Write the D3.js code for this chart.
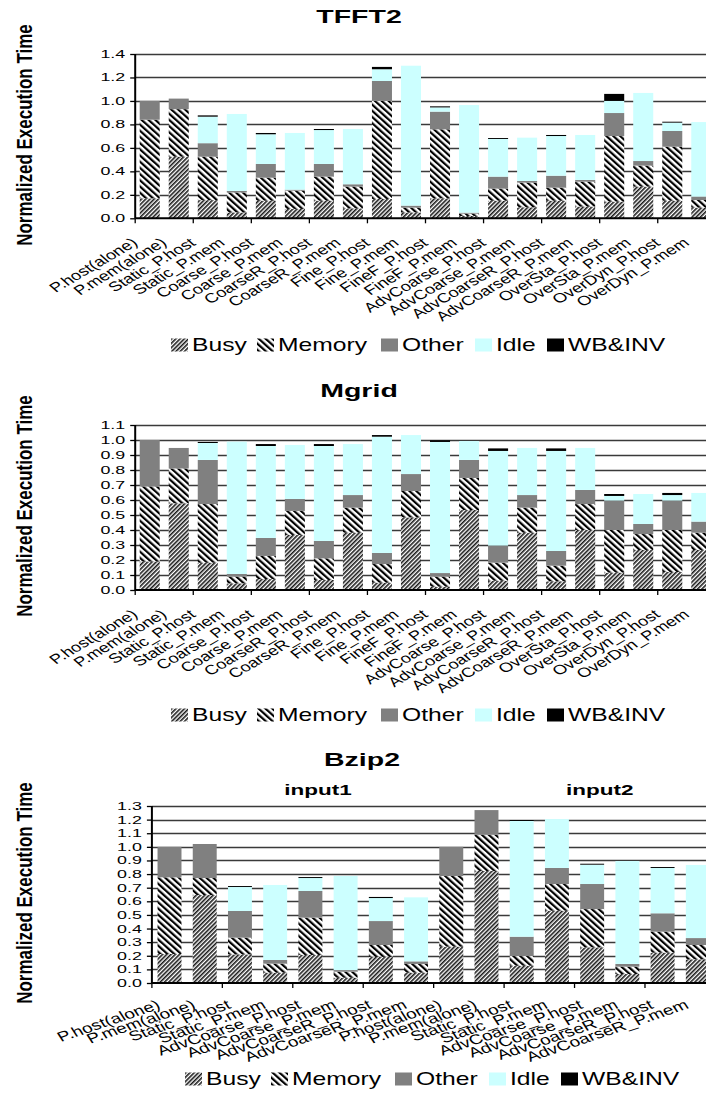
<!DOCTYPE html>
<html>
<head>
<meta charset="utf-8">
<script src="https://cdnjs.cloudflare.com/ajax/libs/d3/7.8.5/d3.min.js"></script>
<style>
  body { margin: 0; background: #fff; }
  svg { display: block; }
  text { font-family: Arial, "Liberation Sans", sans-serif; fill: #000; }
</style>
</head>
<body>
<div class="chart"></div>
<script>
// series names (legend order, stacked bottom -> top)
const seriesNames = ['Busy', 'Memory', 'Other', 'Idle', 'WB&INV'];

// TFFT2
const tfftCats = ['P.host(alone)', 'P.mem(alone)', 'Static_P.host', 'Static_P.mem', 'Coarse_P.host', 'Coarse_P.mem',
  'CoarseR_P.host', 'CoarseR_P.mem', 'Fine_P.host', 'Fine_P.mem', 'FineF_P.host', 'FineF_P.mem',
  'AdvCoarse_P.host', 'AdvCoarse_P.mem', 'AdvCoarseR_P.host', 'AdvCoarseR_P.mem', 'OverSta_P.host', 'OverSta_P.mem',
  'OverDyn_P.host', 'OverDyn_P.mem'];
const tfftBusy   = [0.17, 0.525, 0.155, 0.05, 0.15, 0.08, 0.15, 0.085, 0.165, 0.05, 0.17, 0.02, 0.15, 0.094, 0.15, 0.1, 0.142, 0.27, 0.15, 0.091];
const tfftMemory = [0.67, 0.405, 0.37, 0.17, 0.196, 0.156, 0.205, 0.185, 0.835, 0.041, 0.588, 0.02, 0.103, 0.21, 0.111, 0.212, 0.559, 0.179, 0.46, 0.065];
const tfftOther  = [0.16, 0.09, 0.115, 0.013, 0.117, 0.008, 0.108, 0.02, 0.17, 0.017, 0.151, 0.008, 0.102, 0.014, 0.102, 0.015, 0.196, 0.039, 0.134, 0.029];
const tfftIdle   = [0, 0, 0.226, 0.656, 0.253, 0.483, 0.289, 0.471, 0.10, 1.192, 0.036, 0.917, 0.321, 0.369, 0.338, 0.383, 0.103, 0.58, 0.071, 0.635];
const tfftWb     = [0, 0, 0.011, 0, 0.011, 0, 0.009, 0, 0.02, 0, 0.009, 0, 0.008, 0, 0.009, 0, 0.06, 0, 0.008, 0];
const tfftTicks  = ['0.0', '0.2', '0.4', '0.6', '0.8', '1.0', '1.2', '1.4'];

// Mgrid (same categories as TFFT2)
const mgridBusy   = [0.19, 0.578, 0.182, 0.044, 0.073, 0.367, 0.067, 0.382, 0.049, 0.484, 0.022, 0.533, 0.062, 0.382, 0.058, 0.4, 0.116, 0.267, 0.12, 0.267];
const mgridMemory = [0.5, 0.232, 0.391, 0.045, 0.154, 0.16, 0.144, 0.167, 0.124, 0.176, 0.067, 0.214, 0.12, 0.167, 0.104, 0.173, 0.284, 0.106, 0.28, 0.115];
const mgridOther  = [0.31, 0.137, 0.294, 0.018, 0.12, 0.08, 0.116, 0.084, 0.074, 0.113, 0.024, 0.12, 0.114, 0.084, 0.098, 0.094, 0.196, 0.067, 0.196, 0.074];
const mgridIdle   = [0, 0, 0.113, 0.882, 0.613, 0.36, 0.633, 0.34, 0.775, 0.26, 0.874, 0.126, 0.631, 0.314, 0.667, 0.28, 0.031, 0.2, 0.037, 0.191];
const mgridWb     = [0, 0, 0.007, 0, 0.013, 0, 0.013, 0, 0.011, 0, 0.011, 0, 0.017, 0, 0.017, 0, 0.013, 0, 0.014, 0];
const mgridTicks  = ['0.0', '0.1', '0.2', '0.3', '0.4', '0.5', '0.6', '0.7', '0.8', '0.9', '1.0', '1.1'];

// Bzip2 (two inputs, 8 configs each)
const bzipCats = ['P.host(alone)', 'P.mem(alone)', 'Static_P.host', 'Static_P.mem', 'AdvCoarse_P.host', 'AdvCoarse_P.mem',
  'AdvCoarseR_P.host', 'AdvCoarseR_P.mem'];
const bzipGroups = ['input1', 'input2'];
const bzipBusy   = [0.213, 0.646, 0.21, 0.076, 0.206, 0.039, 0.193, 0.076, 0.267, 0.823, 0.127, 0.531, 0.262, 0.066, 0.223, 0.174];
const bzipMemory = [0.563, 0.125, 0.123, 0.066, 0.274, 0.044, 0.086, 0.064, 0.519, 0.266, 0.071, 0.196, 0.281, 0.054, 0.154, 0.105];
const bzipOther  = [0.224, 0.25, 0.196, 0.027, 0.196, 0.012, 0.176, 0.019, 0.214, 0.181, 0.142, 0.118, 0.184, 0.02, 0.135, 0.051];
const bzipIdle   = [0, 0, 0.176, 0.551, 0.095, 0.691, 0.169, 0.47, 0, 0, 0.85, 0.359, 0.142, 0.756, 0.333, 0.537];
const bzipWb     = [0, 0, 0.007, 0, 0.007, 0, 0.008, 0, 0, 0, 0.007, 0, 0.007, 0, 0.007, 0];
const bzipTicks  = ['0.0', '0.1', '0.2', '0.3', '0.4', '0.5', '0.6', '0.7', '0.8', '0.9', '1.0', '1.1', '1.2', '1.3'];

const W = 706, H = 1097;

const svg = d3.select('.chart')
  .append('svg')
    .attr('width', W)
    .attr('height', H);

svg.append('rect').attr('width', W).attr('height', H).attr('fill', '#fff');

// fill patterns
const defs = svg.append('defs');
const busyPat = defs.append('pattern')
  .attr('id', 'busy')
  .attr('patternUnits', 'userSpaceOnUse')
  .attr('width', 3).attr('height', 3)
  .attr('patternTransform', 'rotate(45)');
busyPat.append('rect').attr('width', 3).attr('height', 3).attr('fill', '#fff');
busyPat.append('rect').attr('width', 1.6).attr('height', 3).attr('fill', '#1a1a1a');

const memPat = defs.append('pattern')
  .attr('id', 'memory')
  .attr('patternUnits', 'userSpaceOnUse')
  .attr('width', 4.6).attr('height', 4.6)
  .attr('patternTransform', 'rotate(-48)');
memPat.append('rect').attr('width', 4.6).attr('height', 4.6).attr('fill', '#fff');
memPat.append('rect').attr('width', 2.2).attr('height', 4.6).attr('fill', '#000');

const fills = ['url(#busy)', 'url(#memory)', '#808080', '#ccffff', '#000'];

// legend item x offsets (swatch left edges), text sits 21px right of swatch
const legendOffsets = [0, 86, 210, 304, 376];

function drawChart(opt) {
  const g = svg.append('g');
  const n = opt.cats.length;
  const innerW = n * opt.step;

  const x = d3.scaleBand()
    .domain(d3.range(n))
    .range([opt.left, opt.left + innerW])
    .paddingInner(opt.pad)
    .paddingOuter(opt.pad / 2);

  const yMax = +opt.ticks[opt.ticks.length - 1];
  const y = d3.scaleLinear()
    .domain([0, yMax])
    .range([opt.bottom, opt.top]);

  // gridlines
  g.append('g')
    .selectAll('line')
    .data(opt.ticks.slice(1))
    .join('line')
      .attr('x1', opt.left).attr('x2', opt.left + innerW)
      .attr('y1', d => Math.round(y(+d)) + 0.5)
      .attr('y2', d => Math.round(y(+d)) + 0.5)
      .attr('stroke', '#3a3a3a')
      .attr('stroke-width', 1.4);

  // stacked bars
  const rows = opt.cats.map((c, i) => {
    const r = { i };
    seriesNames.forEach((s, k) => { r[s] = opt.values[k][i]; });
    return r;
  });
  const stack = d3.stack().keys(seriesNames)(rows);

  g.append('g')
    .selectAll('g')
    .data(stack)
    .join('g')
      .attr('fill', (d, k) => fills[k])
    .selectAll('rect')
    .data(d => d)
    .join('rect')
      .attr('x', d => x(d.data.i))
      .attr('width', x.bandwidth())
      .attr('y', d => y(d[1]))
      .attr('height', d => Math.max(0, y(d[0]) - y(d[1])));

  // y axis
  const yAxis = d3.axisLeft(y)
    .tickValues(opt.ticks.map(Number))
    .tickSize(5)
    .tickFormat('');
  g.append('g')
    .attr('transform', `translate(${opt.left},0)`)
    .call(yAxis)
    .call(s => s.select('.domain').attr('stroke', '#000').attr('stroke-width', 2).attr('d', `M0,${opt.bottom}V${opt.top}`))
    .call(s => s.selectAll('.tick line').attr('stroke', '#000').attr('stroke-width', 1.3));

  g.append('g')
    .selectAll('text')
    .data(opt.ticks)
    .join('text')
      .attr('transform', d => `translate(${opt.left - 10},${y(+d) + 4}) scale(1.7,1)`)
      .attr('text-anchor', 'end')
      .style('font-size', '10.5px')
      .text(d => d);

  // x axis line + ticks every two categories
  g.append('line')
    .attr('x1', opt.left).attr('x2', opt.left + innerW)
    .attr('y1', opt.bottom).attr('y2', opt.bottom)
    .attr('stroke', '#000').attr('stroke-width', 2);
  g.append('g')
    .selectAll('line')
    .data(d3.range(0, n + 1, 2))
    .join('line')
      .attr('x1', d => opt.left + d * opt.step).attr('x2', d => opt.left + d * opt.step)
      .attr('y1', opt.bottom).attr('y2', opt.bottom + 5)
      .attr('stroke', '#000').attr('stroke-width', 1.3);

  // category labels (widened like the original export)
  g.append('g')
    .selectAll('text')
    .data(opt.cats)
    .join('text')
      .attr('transform', (d, i) => `translate(${x(i) + x.bandwidth() / 2 + opt.lblDx},${opt.bottom + opt.lblDy}) scale(1.38,1) rotate(${opt.angle})`)
      .attr('text-anchor', 'end')
      .style('font-size', opt.lblSize + 'px')
      .text(d => d);

  // title
  g.append('text')
    .attr('transform', `translate(${opt.titleX},${opt.titleY}) scale(1.5,1)`)
    .attr('text-anchor', 'middle')
    .style('font-size', '19px').style('font-weight', 'bold')
    .text(opt.title);

  // y axis title
  g.append('text')
    .attr('transform', `translate(32,${opt.yLabelY}) rotate(-90) scale(1,1.35)`)
    .attr('text-anchor', 'middle')
    .style('font-size', '17px').style('font-weight', 'bold')
    .text('Normalized Execution Time');

  // legend
  const lg = g.append('g').attr('transform', `translate(${opt.legendX},${opt.legendY})`);
  seriesNames.forEach((s, k) => {
    const it = lg.append('g').attr('transform', `translate(${legendOffsets[k]},0)`);
    it.append('rect').attr('x', 0).attr('y', -12.5).attr('width', 17).attr('height', 13).attr('fill', fills[k]);
    it.append('text')
      .attr('transform', 'translate(21,0) scale(1.37,1)')
      .style('font-size', '18px')
      .text(s);
  });

  return { x, y, g };
}

drawChart({
  title: 'TFFT2', titleX: 359, titleY: 23,
  cats: tfftCats, values: [tfftBusy, tfftMemory, tfftOther, tfftIdle, tfftWb], ticks: tfftTicks,
  left: 135.2, step: 29.03, pad: 0.31, top: 54, bottom: 218.3,
  angle: -39, lblSize: 13.3, lblDx: -11, lblDy: 26,
  yLabelY: 135, legendX: 171, legendY: 351
});

drawChart({
  title: 'Mgrid', titleX: 359, titleY: 397,
  cats: tfftCats, values: [mgridBusy, mgridMemory, mgridOther, mgridIdle, mgridWb], ticks: mgridTicks,
  left: 135.2, step: 29.03, pad: 0.31, top: 425, bottom: 590,
  angle: -39, lblSize: 13.3, lblDx: -11, lblDy: 26,
  yLabelY: 506, legendX: 171, legendY: 721
});

const bz = drawChart({
  title: 'Bzip2', titleX: 362, titleY: 766,
  cats: bzipCats.concat(bzipCats), values: [bzipBusy, bzipMemory, bzipOther, bzipIdle, bzipWb], ticks: bzipTicks,
  left: 151.9, step: 35.22, pad: 0.32, top: 806, bottom: 983,
  angle: -25, lblSize: 13.8, lblDx: -8, lblDy: 25,
  yLabelY: 893, legendX: 185, legendY: 1085
});

// group headers over the two input halves
bz.g.append('g')
  .selectAll('text')
  .data(bzipGroups)
  .join('text')
    .attr('transform', (d, k) => `translate(${318 + k * 8 * 35.22},795) scale(1.5,1)`)
    .attr('text-anchor', 'middle')
    .style('font-size', '15px').style('font-weight', 'bold')
    .text(d => d);
</script>
</body>
</html>
